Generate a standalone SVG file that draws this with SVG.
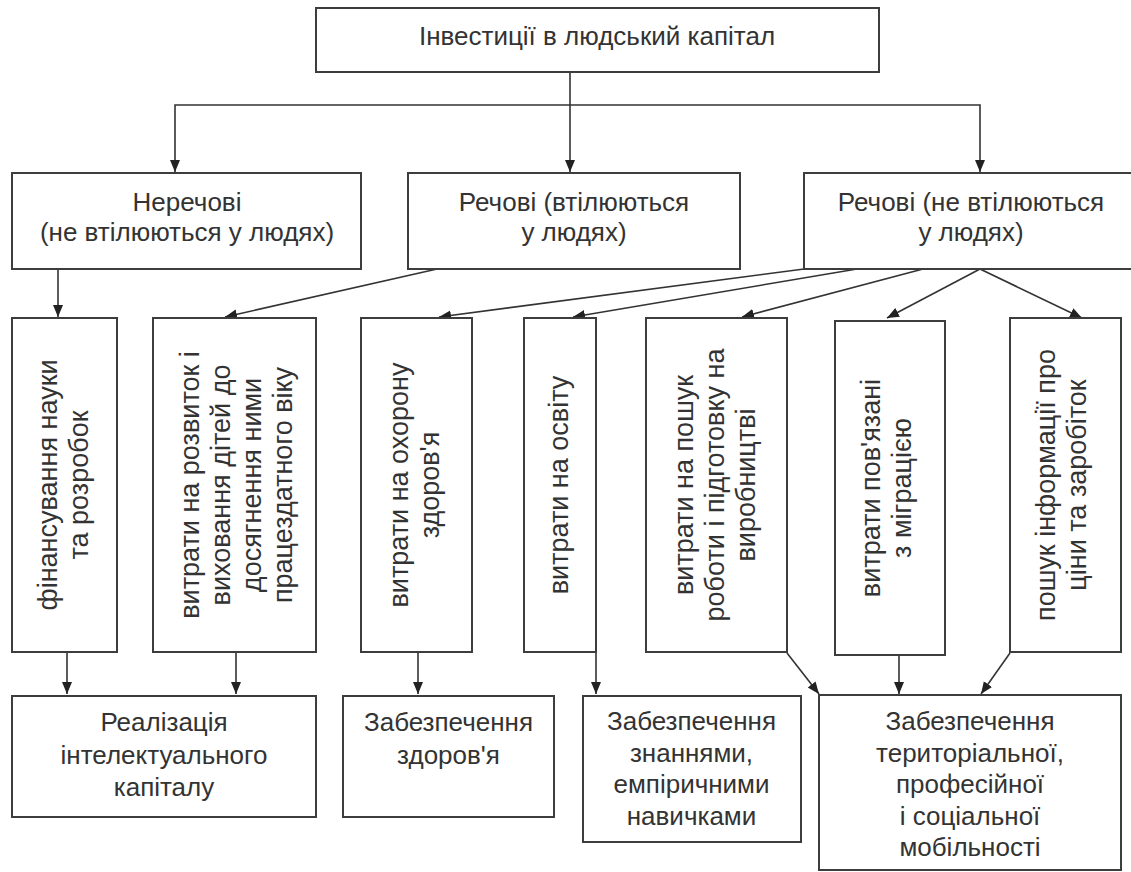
<svg xmlns="http://www.w3.org/2000/svg" width="1131" height="872" viewBox="0 0 1131 872">
<defs>
<style>
.box{fill:#fff;stroke:#3d3d3d;stroke-width:2}
.t{font-family:"Liberation Sans",Arial,sans-serif;font-size:26px;fill:#333;text-anchor:middle}
.v{font-family:"Liberation Sans",Arial,sans-serif;font-size:27px;fill:#333;text-anchor:middle}
.c{fill:none;stroke:#333;stroke-width:1.6}
</style>
<marker id="ar" markerUnits="userSpaceOnUse" markerWidth="13" markerHeight="11" refX="12" refY="5" orient="auto" viewBox="0 0 13 11">
<path d="M0,0 L12,5 L0,10 z" fill="#222"/>
</marker>
</defs>
<rect width="1131" height="872" fill="#fff"/>
<g id="connectors">
<path class="c" d="M570,72 V172" marker-end="url(#ar)"/>
<path class="c" d="M570,105 H175 V172" marker-end="url(#ar)"/>
<path class="c" d="M570,105 H980 V172" marker-end="url(#ar)"/>
<path class="c" d="M58,269 V317" marker-end="url(#ar)"/>
<path class="c" d="M437,269 L225,317" marker-end="url(#ar)"/>
<path class="c" d="M804,269 L439,317" marker-end="url(#ar)"/>
<path class="c" d="M857,269 L573,317" marker-end="url(#ar)"/>
<path class="c" d="M923,269 L742,317" marker-end="url(#ar)"/>
<path class="c" d="M980,269 L887,318" marker-end="url(#ar)"/>
<path class="c" d="M980,269 L1082,318" marker-end="url(#ar)"/>
<path class="c" d="M67,653 V694" marker-end="url(#ar)"/>
<path class="c" d="M236,653 V694" marker-end="url(#ar)"/>
<path class="c" d="M418,653 V694" marker-end="url(#ar)"/>
<path class="c" d="M596,653 V694" marker-end="url(#ar)"/>
<path class="c" d="M787,653 L819,694" marker-end="url(#ar)"/>
<path class="c" d="M899,656 V694" marker-end="url(#ar)"/>
<path class="c" d="M1010,653 L981,694" marker-end="url(#ar)"/>
</g>
<g id="root">
<rect class="box" x="316" y="8" width="563" height="64"/>
<text class="t" x="597" y="45">Інвестиції в людський капітал</text>
</g>
<g id="nonmaterial">
<rect class="box" x="12" y="173" width="349" height="96"/>
<text class="t" x="187" y="211">Неречові</text>
<text class="t" x="187" y="241">(не втілюються у людях)</text>
</g>
<g id="material-in-people">
<rect class="box" x="408" y="173" width="332" height="96"/>
<text class="t" x="574" y="211">Речові (втілюються</text>
<text class="t" x="574" y="241">у людях)</text>
</g>
<g id="material-not-in-people">
<rect class="box" x="804" y="173" width="334" height="96"/>
<text class="t" x="971" y="211">Речові (не втілюються</text>
<text class="t" x="971" y="241">у людях)</text>
</g>
<g id="science">
<rect class="box" x="12" y="318" width="105" height="334"/>
<text class="v" transform="translate(64,485) rotate(-90)"><tspan x="0" y="-7.5">фінансування науки</tspan><tspan x="0" y="23.5">та розробок</tspan></text>
</g>
<g id="children">
<rect class="box" x="153" y="318" width="163" height="334"/>
<text class="v" transform="translate(237.5,485) rotate(-90)"><tspan x="0" y="-38.5">витрати на розвиток і</tspan><tspan x="0" y="-7.5">виховання дітей до</tspan><tspan x="0" y="23.5">досягнення ними</tspan><tspan x="0" y="54.5">працездатного віку</tspan></text>
</g>
<g id="health">
<rect class="box" x="361" y="318" width="111" height="334"/>
<text class="v" transform="translate(415,485) rotate(-90)"><tspan x="0" y="-7.5">витрати на охорону</tspan><tspan x="0" y="23.5">здоров'я</tspan></text>
</g>
<g id="education">
<rect class="box" x="524" y="318" width="72" height="334"/>
<text class="v" transform="translate(560,485) rotate(-90)"><tspan x="0" y="8">витрати на освіту</tspan></text>
</g>
<g id="job-search">
<rect class="box" x="646" y="318" width="141" height="334"/>
<text class="v" transform="translate(716,485) rotate(-90)"><tspan x="0" y="-23">витрати на пошук</tspan><tspan x="0" y="8">роботи і підготовку на</tspan><tspan x="0" y="39">виробництві</tspan></text>
</g>
<g id="migration">
<rect class="box" x="835" y="321" width="110" height="334"/>
<text class="v" transform="translate(887.5,488) rotate(-90)"><tspan x="0" y="-7.5">витрати пов'язані</tspan><tspan x="0" y="23.5">з міграцією</tspan></text>
</g>
<g id="info-search">
<rect class="box" x="1010" y="318" width="111" height="334"/>
<text class="v" transform="translate(1062.5,485) rotate(-90)"><tspan x="0" y="-7.5">пошук інформації про</tspan><tspan x="0" y="23.5">ціни та заробіток</tspan></text>
</g>
<g id="intellectual">
<rect class="box" x="12" y="696" width="304" height="121"/>
<text class="t" x="164" y="731">Реалізація</text>
<text class="t" x="164" y="764">інтелектуального</text>
<text class="t" x="164" y="796">капіталу</text>
</g>
<g id="health-result">
<rect class="box" x="343" y="696" width="211" height="121"/>
<text class="t" x="448.5" y="731">Забезпечення</text>
<text class="t" x="448.5" y="764">здоров'я</text>
</g>
<g id="knowledge">
<rect class="box" x="583" y="696" width="218" height="146"/>
<text class="t" x="691.5" y="730">Забезпечення</text>
<text class="t" x="691.5" y="762">знаннями,</text>
<text class="t" x="691.5" y="793">емпіричними</text>
<text class="t" x="691.5" y="825">навичками</text>
</g>
<g id="mobility">
<rect class="box" x="819" y="695" width="302" height="175"/>
<text class="t" x="970" y="730">Забезпечення</text>
<text class="t" x="970" y="761.5">територіальної,</text>
<text class="t" x="970" y="793">професійної</text>
<text class="t" x="970" y="824.5">і соціальної</text>
<text class="t" x="970" y="856">мобільності</text>
</g>
</svg>
